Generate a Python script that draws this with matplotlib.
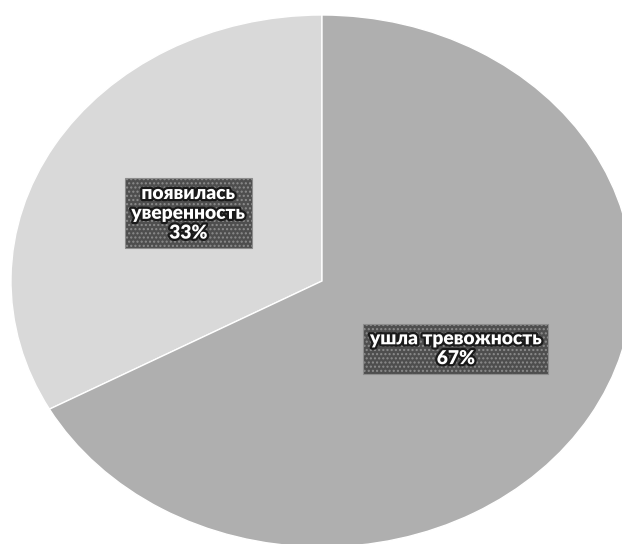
import matplotlib
matplotlib.use("Agg")
import matplotlib.pyplot as plt
import matplotlib.patheffects as pe

categories = ["появилась\nуверенность", "ушла тревожность"]
shares = [33, 67]
slice_colors = ["#d9d9d9", "#afafaf"]

fig = plt.figure(figsize=(6.22, 5.44), dpi=100)
fig.patch.set_facecolor("white")
# the pie is drawn a little wider than tall and runs off the right and bottom edges
ax = fig.add_axes([11 / 622, -3 / 544, 622 / 622, 532 / 544])

wedges, _, autotexts = ax.pie(
    shares,
    colors=slice_colors,
    startangle=90,
    counterclock=True,
    radius=1.0,
    labels=None,
    autopct=lambda p: f"{p:.0f}%",
    pctdistance=0.5,
    wedgeprops=dict(edgecolor="white", linewidth=1.0),
)
ax.set_aspect("auto")
ax.set_xlim(-1, 1)
ax.set_ylim(-1, 1)
ax.axis("off")

for name, value, t in zip(categories, shares, autotexts):
    t.set_text(f"{name}\n{value}%")
    t.set_fontfamily("Lato")
    t.set_fontweight("heavy")
    t.set_fontsize(13.8)
    t.set_color("white")
    t.set_ha("center")
    t.set_va("center")
    t.set_multialignment("center")
    t.set_linespacing(1.2)
    t.set_path_effects([pe.withStroke(linewidth=3.2, foreground="#1a1a1a")])
    t.set_bbox(dict(boxstyle="square,pad=0.35", facecolor="#4e4e4e",
                    edgecolor="#8c8c8c", linewidth=0.8, hatch="...."))

fig.savefig("out.png", dpi=100, facecolor="white")
